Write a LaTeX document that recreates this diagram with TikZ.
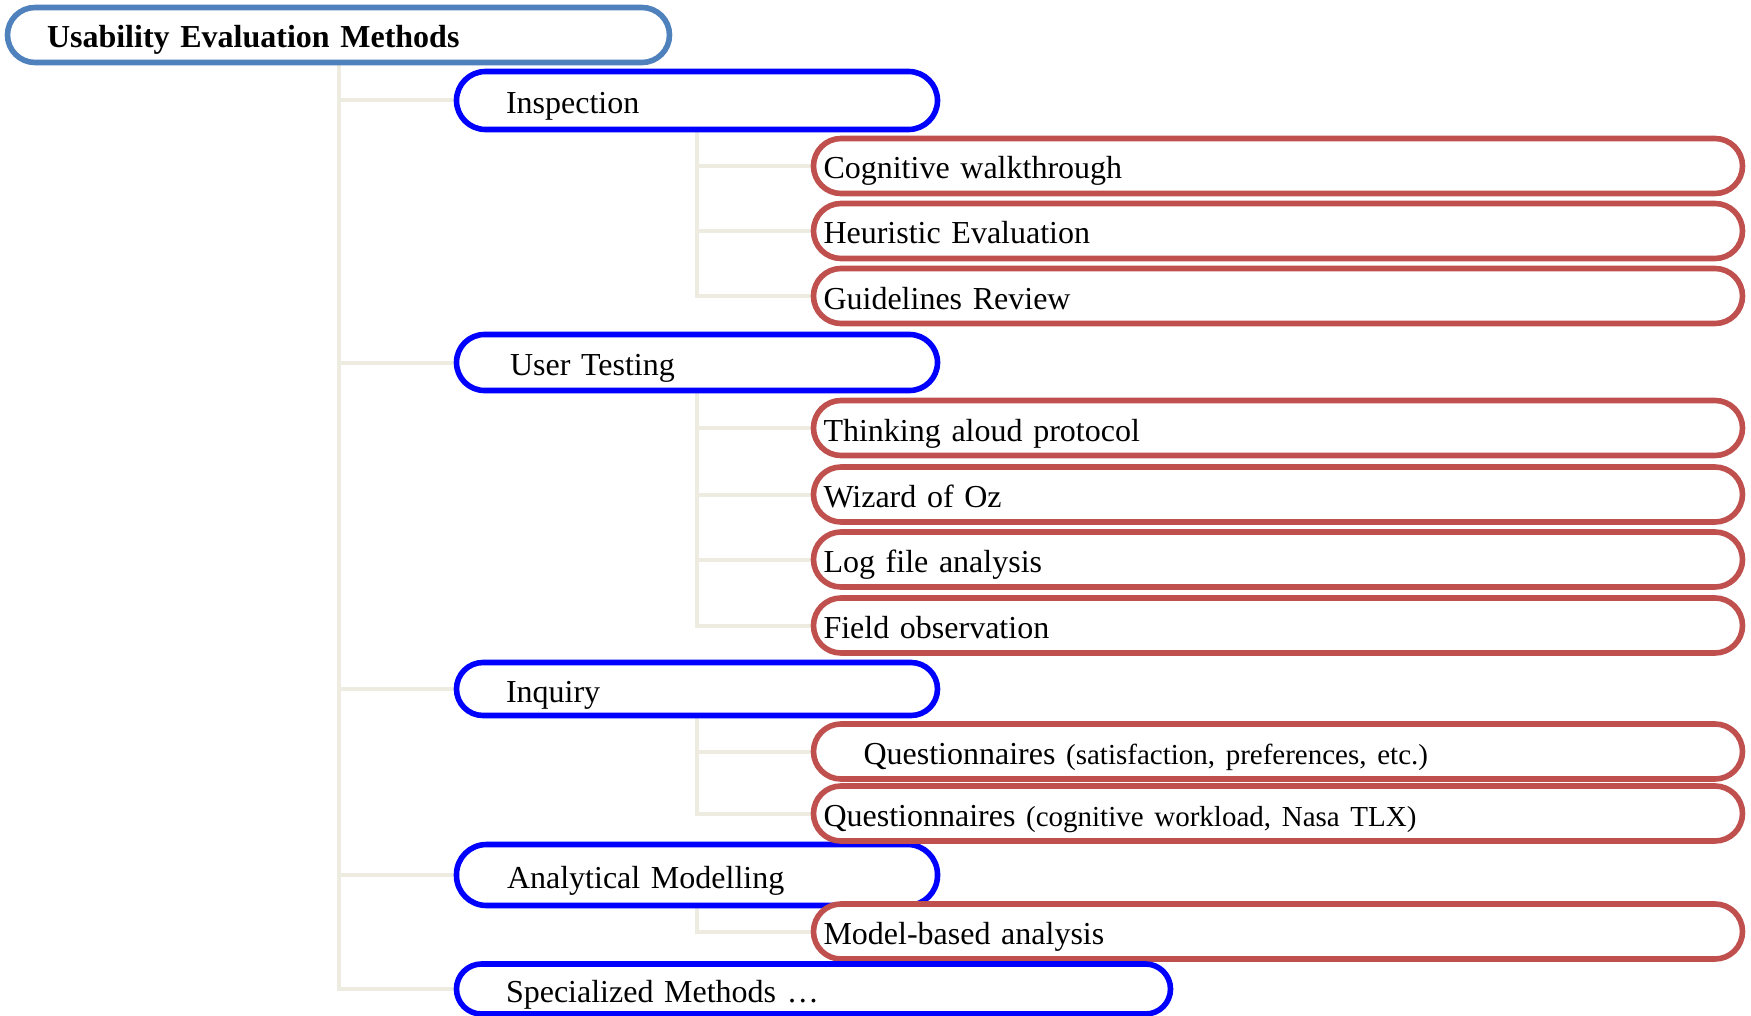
\documentclass[tikz,border=0pt]{standalone}
\usepackage{fontspec}
\setmainfont{Liberation Serif}
\usetikzlibrary{backgrounds}
\definecolor{rootblue}{HTML}{4F81BD}
\definecolor{pureblue}{HTML}{0000FF}
\definecolor{boxred}{HTML}{C0504D}
\definecolor{connbeige}{HTML}{EEECE1}
\tikzset{
  lbox/.style={rectangle, anchor=west, outer sep=0pt, fill=white, line width=2.8pt, align=left,
    inner ysep=0pt, text height=14pt, text depth=1pt,
    font=\fontsize{16}{19}\selectfont},
  rootbox/.style={lbox, draw=rootblue, minimum height=27.5pt, rounded corners=13.75pt,
    inner xsep=19.75pt, text width=291.5pt, font=\fontsize{16}{19}\selectfont\bfseries},
  bluebox/.style 2 args={lbox, draw=pureblue, minimum height=#1, rounded corners=#2,
    inner xsep=24.75pt, text width=191pt},
  redbox/.style={lbox, draw=boxred, minimum height=27.5pt, rounded corners=13.75pt,
    inner xsep=5pt, text width=454.5pt},
  conn/.style={draw=connbeige, line width=2pt}
}
\newcommand{\pfont}{\fontsize{14.5}{17}\selectfont}
\begin{document}
\begin{tikzpicture}[x=0.5pt,y=-0.5pt]
\useasboundingbox (0,0) rectangle (1751,1016);

\node[rootbox] (root) at (7.5,35) {Usability Evaluation Methods};

\node[bluebox={29pt}{14.5pt}] (insp) at (456.5,100.5) {Inspection};
\node[bluebox={28pt}{14pt}] (user) at (456.5,362.5) {\hspace*{2pt}User Testing};
\node[bluebox={26.5pt}{13.25pt}] (inq) at (456.5,689) {Inquiry};
\node[bluebox={30.5pt}{15pt}] (anal) at (456.5,875) {\hspace*{0.5pt}Analytical Modelling};

\node[redbox] (cog) at (813.5,166) {Cognitive walkthrough};
\node[redbox] (heur) at (813.5,231) {Heuristic Evaluation};
\node[redbox] (guide) at (813.5,296) {Guidelines Review};
\node[redbox] (think) at (813.5,428) {Thinking aloud protocol};
\node[redbox] (wiz) at (813.5,494.5) {Wizard of Oz};
\node[redbox] (log) at (813.5,559.5) {Log file analysis};
\node[redbox] (field) at (813.5,625.5) {Field observation};
\node[redbox] (qa) at (813.5,751.5) {\hspace*{20pt}Questionnaires {\pfont(satisfaction, preferences, etc.)}};
\node[redbox] (qb) at (813.5,813.5) {Questionnaires {\pfont(cognitive workload, Nasa TLX)}};
\node[redbox] (model) at (813.5,931.5) {Model-based analysis};

\node[bluebox={25pt}{12.5pt}, text width=307.5pt] (spec) at (456.5,989) {Specialized Methods \dots};

\begin{pgfonlayer}{background}
\fill[white] (0,0) rectangle (1751,1016);
\foreach \t in {insp,user,inq,anal,spec}
  \draw[conn] (root.south) |- (\t.west);
\foreach \t in {cog,heur,guide}
  \draw[conn] (insp.south) |- (\t.west);
\foreach \t in {think,wiz,log,field}
  \draw[conn] (user.south) |- (\t.west);
\foreach \t in {qa,qb}
  \draw[conn] (inq.south) |- (\t.west);
\draw[conn] (anal.south) |- (model.west);
\end{pgfonlayer}
\end{tikzpicture}
\end{document}
